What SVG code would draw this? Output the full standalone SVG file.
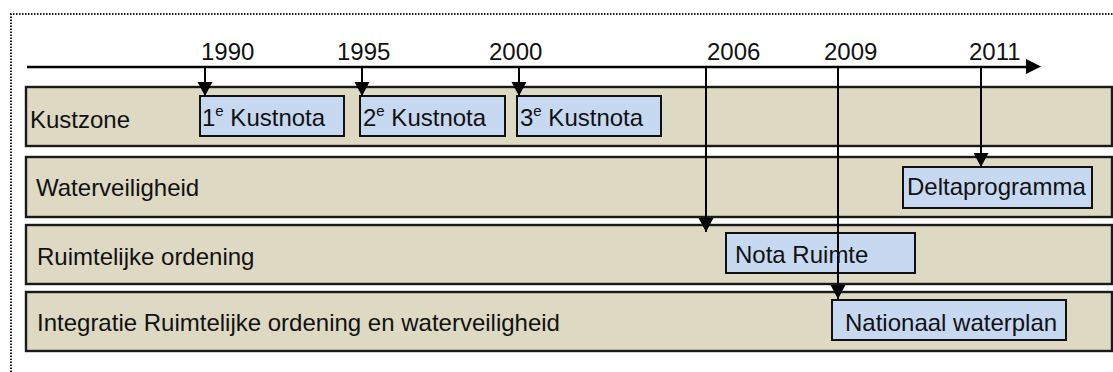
<svg xmlns="http://www.w3.org/2000/svg" width="1113" height="372" viewBox="0 0 1113 372">
  <style>
    .frame { fill: none; stroke: #222; stroke-width: 2; stroke-dasharray: 1.5 1.5; }
    .lane { fill: #DDD9C3; stroke: #1a1a1a; stroke-width: 2.4; }
    .doc { fill: #C6D9F1; stroke: #111; stroke-width: 2; }
    text { font-family: "Liberation Sans", Arial, sans-serif; font-size: 24px; fill: #111; }
    .sup { font-size: 15px; }
    .axis { fill: none; stroke: #000; stroke-width: 2.4; }
    .tick { fill: none; stroke: #000; stroke-width: 2; marker-end: url(#head); }
  </style>
  <defs>
    <marker id="head" markerUnits="userSpaceOnUse" markerWidth="16" markerHeight="16" viewBox="0 0 16 16" refX="14" refY="7.5" orient="auto">
      <path d="M0,0 L14,7.5 L0,15 Z" fill="#000"/>
    </marker>
  </defs>

  <rect width="1113" height="372" fill="#fff"/>
  <!-- dotted outline -->
  <path class="frame" d="M11,372 V14 H1113"/>

  <!-- lanes -->
  <g id="lane-kustzone">
    <rect class="lane" x="26" y="87" width="1086" height="59"/>
    <text x="30" y="128">Kustzone</text>
  </g>
  <g id="lane-waterveiligheid">
    <rect class="lane" x="26" y="157" width="1086" height="60"/>
    <text x="36" y="196">Waterveiligheid</text>
  </g>
  <g id="lane-ruimtelijke-ordening">
    <rect class="lane" x="26" y="225" width="1086" height="59"/>
    <text x="37" y="265">Ruimtelijke ordening</text>
  </g>
  <g id="lane-integratie">
    <rect class="lane" x="26" y="292" width="1086" height="59"/>
    <text x="37" y="331">Integratie Ruimtelijke ordening en waterveiligheid</text>
  </g>

  <!-- policy documents -->
  <g id="doc-kustnota-1">
    <rect class="doc" x="200" y="96" width="144" height="40"/>
    <text x="202" y="126">1<tspan class="sup" dy="-10">e</tspan><tspan dy="10"> Kustnota</tspan></text>
  </g>
  <g id="doc-kustnota-2">
    <rect class="doc" x="360" y="96" width="145" height="40"/>
    <text x="363" y="126">2<tspan class="sup" dy="-10">e</tspan><tspan dy="10"> Kustnota</tspan></text>
  </g>
  <g id="doc-kustnota-3">
    <rect class="doc" x="517" y="96" width="144" height="40"/>
    <text x="520" y="126">3<tspan class="sup" dy="-10">e</tspan><tspan dy="10"> Kustnota</tspan></text>
  </g>
  <g id="doc-deltaprogramma">
    <rect class="doc" x="903" y="167" width="189" height="41"/>
    <text x="907" y="195">Deltaprogramma</text>
  </g>
  <g id="doc-nota-ruimte">
    <rect class="doc" x="726" y="233" width="189" height="40"/>
    <text x="735" y="263">Nota Ruimte</text>
  </g>
  <g id="doc-nationaal-waterplan">
    <rect class="doc" x="832" y="300" width="234" height="40"/>
    <text x="845" y="331">Nationaal waterplan</text>
  </g>

  <!-- time axis -->
  <g id="axis">
    <line class="axis" x1="27" y1="67" x2="1027" y2="67"/>
    <path d="M1026,59 L1041,66.5 L1026,74 Z" fill="#000"/>
    <text x="201" y="60">1990</text>
    <text x="337" y="60">1995</text>
    <text x="489" y="60">2000</text>
    <text x="707" y="60">2006</text>
    <text x="824" y="60">2009</text>
    <text x="969" y="60">2011</text>
  </g>

  <!-- connectors from the years to their documents -->
  <g id="connectors">
    <line class="tick" x1="205" y1="68" x2="205" y2="96"/>
    <line class="tick" x1="362" y1="68" x2="362" y2="96"/>
    <line class="tick" x1="519" y1="68" x2="519" y2="96"/>
    <line class="tick" x1="706" y1="68" x2="706" y2="232"/>
    <line class="tick" x1="838" y1="68" x2="838" y2="299"/>
    <line class="tick" x1="981" y1="68" x2="981" y2="167"/>
  </g>
</svg>
